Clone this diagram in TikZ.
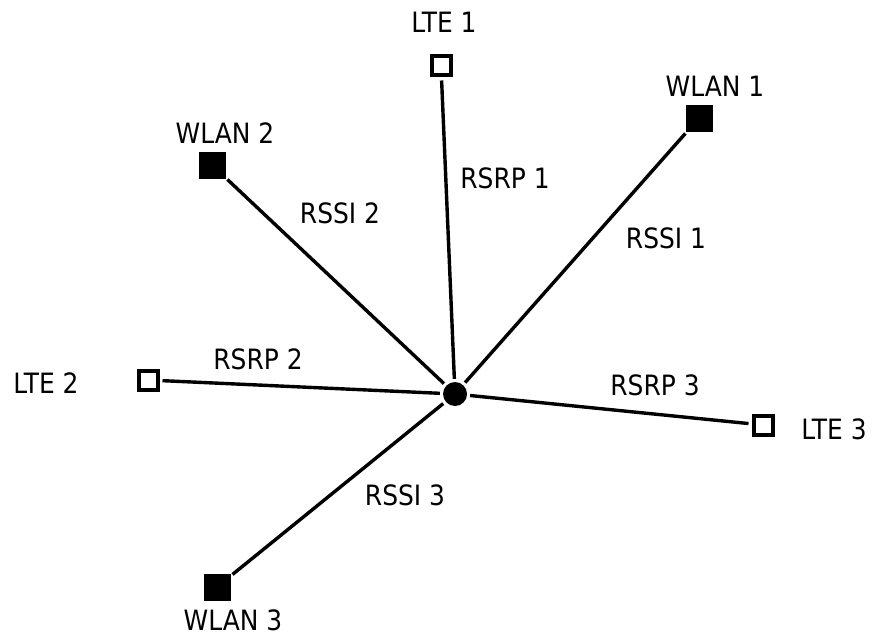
\documentclass[tikz,border=0pt]{standalone}
\usepackage{fontspec}
\setmainfont[FakeStretch=0.89]{DejaVu Sans}
\begin{document}
\begin{tikzpicture}[x=1pt,y=-1pt,
  lte/.style={draw=black,line width=4pt,fill=white,minimum size=19pt,inner sep=0pt},
  wlan/.style={draw=black,fill=black,minimum size=26pt,inner sep=0pt},
  ue/.style={circle,fill=black,minimum size=24pt,inner sep=0pt},
  link/.style={line width=3.4pt,shorten <=3pt,shorten >=3pt},
  lbl/.style={font=\fontsize{28}{32}\selectfont,inner sep=0pt}]
\useasboundingbox (0,0) rectangle (872,636);
% user equipment
\node[ue] (u) at (455,394) {};
% access points
\node[lte]  (l1) at (441,66)  {};
\node[lte]  (l2) at (148,380) {};
\node[lte]  (l3) at (763,425) {};
\node[wlan] (w1) at (699,118) {};
\node[wlan] (w2) at (212,165) {};
\node[wlan] (w3) at (217,587) {};
% station names
\node[lbl] (tl1) at (444,22)  {LTE 1};
\node[lbl] (tl2) at (46,383)  {LTE 2};
\node[lbl] (tl3) at (834,429) {LTE 3};
\node[lbl] (tw1) at (715,86)  {WLAN 1};
\node[lbl] (tw2) at (225,133) {WLAN 2};
\node[lbl] (tw3) at (233,620) {WLAN 3};
% links
\draw[link] (l1) -- (u);
\draw[link] (l2) -- (u);
\draw[link] (l3) -- (u);
\draw[link] (w1) -- (u);
\draw[link] (w2) -- (u);
\draw[link] (w3) -- (u);
% link measurements
\node[lbl] (m1) at (505,178) {RSRP 1};
\node[lbl] (m2) at (258,359) {RSRP 2};
\node[lbl] (m3) at (655,385) {RSRP 3};
\node[lbl] (s1) at (666,238) {RSSI 1};
\node[lbl] (s2) at (340,213) {RSSI 2};
\node[lbl] (s3) at (405,495) {RSSI 3};
\end{tikzpicture}
\end{document}
